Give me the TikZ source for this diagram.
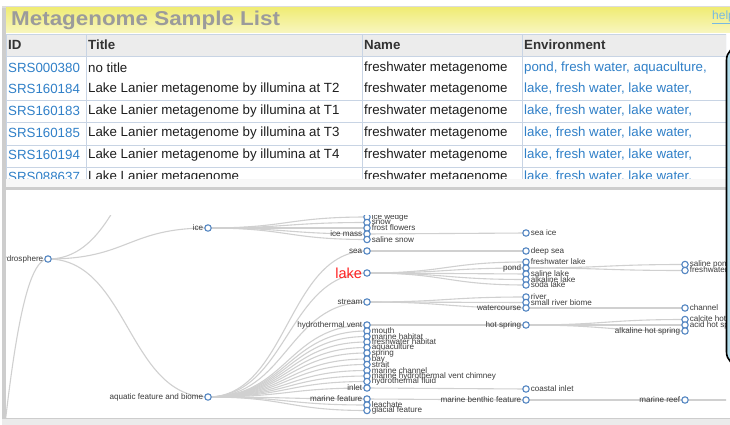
\documentclass[tikz,border=0pt]{standalone}
\usepackage{fontspec}
\setmainfont{Liberation Sans}
\newfontfamily\titlefont[FakeStretch=1.12]{Liberation Sans}
\usetikzlibrary{calc}
\definecolor{linkblue}{RGB}{48,128,200}
\definecolor{nodeblue}{RGB}{84,134,194}
\definecolor{edgegray}{RGB}{208,208,208}
\definecolor{labtext}{RGB}{60,60,60}
\definecolor{gridline}{RGB}{200,212,228}
\definecolor{hdrbg}{RGB}{236,236,236}
\definecolor{ybartop}{RGB}{240,236,118}
\definecolor{ybarbot}{RGB}{248,246,192}
\definecolor{titlegray}{RGB}{155,155,155}
\definecolor{calloutblue}{RGB}{178,220,234}
\definecolor{lakered}{RGB}{255,32,32}
\definecolor{framegray}{RGB}{205,205,205}
\definecolor{helpblue}{RGB}{120,185,225}
\definecolor{celltext}{RGB}{30,30,30}
\pgfdeclarelayer{back}
\pgfdeclarelayer{edges}
\pgfsetlayers{back,edges,main}
\tikzset{
  tn/.style={circle,draw=nodeblue,fill=white,line width=1.1pt,inner sep=0pt,minimum size=6.4pt},
  tl/.style={font=\fontsize{8.1}{9}\selectfont,text=labtext,inner sep=0.8pt},
  dg/.style={draw=edgegray,line width=1.1pt,
    to path={let \p1=(\tikztostart), \p2=(\tikztotarget) in
      (\tikztostart) .. controls ({(\x1+\x2)/2},\y1) and ({(\x1+\x2)/2},\y2) .. (\tikztotarget)}},
  cell/.style={anchor=west,font=\fontsize{13.3}{15}\selectfont,text=celltext,inner sep=0pt},
  lnk/.style={cell,text=linkblue},
  hdr/.style={anchor=west,font=\bfseries\fontsize{13.3}{15}\selectfont,text=black!80,inner sep=0pt},
  grid/.style={draw=gridline,line width=0.9pt}
}
\newcommand{\TR}[4]{\node[tn,label={[tl]right:#4}] (#1) at (#2,#3) {};}
\newcommand{\TL}[4]{\node[tn,label={[tl]left:#4}] (#1) at (#2,#3) {};}
\begin{document}
\begin{tikzpicture}[x=1pt,y=-1pt]
\useasboundingbox (0,0) rectangle (730,425);
\begin{pgfonlayer}{back}
\fill[white] (0,0) rectangle (730,425);
\fill[framegray!70] (2,6) rectangle (730,8);
\fill[framegray] (2,8) rectangle (6,425);
\shade[top color=ybartop,bottom color=ybarbot] (6,8) rectangle (730,33);
\fill[hdrbg] (6,34) rectangle (726,56);
\fill[white] (6,56) rectangle (726,178.5);
\fill[black!3] (6,178.5) rectangle (730,187);
\fill[framegray] (6,187) rectangle (730,190);
\fill[white] (6,190) rectangle (730,418);
\fill[black!8] (2,418) rectangle (730,425);
\fill[framegray] (2,418) rectangle (730,419);
\end{pgfonlayer}

% title bar
\node[anchor=west,inner sep=0pt,text=titlegray,font=\titlefont\bfseries\fontsize{20}{22}\selectfont] (title) at (11,20.5) {Metagenome Sample List};
\node[anchor=west,inner sep=0pt,text=helpblue,font=\fontsize{12}{14}\selectfont] (help) at (712,17) {\underline{help}};

% table
\node[hdr] (hid) at (8,45) {ID};
\node[hdr] (htitle) at (88,45) {Title};
\node[hdr] (hname) at (364,45) {Name};
\node[hdr] (henv) at (524,45) {Environment};
\begin{scope}
\clip (6,34) rectangle (726,178.5);
\draw[grid] (6,34) -- (726,34);
\draw[grid] (6,56) -- (726,56);
\foreach \yy in {100,122,145,167} \draw[grid] (6,\yy) -- (726,\yy);
\foreach \xx in {6,86,362,522,726} \draw[grid] (\xx,34) -- (\xx,181);
\foreach \yy/\sid/\ttl/\env [count=\i] in {
  68/SRS000380/no title/{pond, fresh water, aquaculture,},
  89/SRS160184/Lake Lanier metagenome by illumina at T2/{lake, fresh water, lake water,},
  111/SRS160183/Lake Lanier metagenome by illumina at T1/{lake, fresh water, lake water,},
  133/SRS160185/Lake Lanier metagenome by illumina at T3/{lake, fresh water, lake water,},
  155/SRS160194/Lake Lanier metagenome by illumina at T4/{lake, fresh water, lake water,},
  177/SRS088637/Lake Lanier metagenome/{lake, fresh water, lake water,}}{
  \node[lnk] (id\i) at (8,\yy) {\sid};
  \node[cell] (t\i) at (88,\yy) {\ttl};
  \node[cell] (n\i) at (364,\yy) {freshwater metagenome};
  \node[lnk] (e\i) at (524,\yy) {\env};
}
\end{scope}

% tree
\begin{scope}
\clip (6,215) rectangle (726,418);
\TL{hydro}{48}{259}{hydrosphere}
\coordinate (upoff) at (208,110);
\coordinate (paroff) at (-60,800);
\TL{ice}{208}{228}{ice}
\TL{aqua}{208}{397}{aquatic feature and biome}
\TR{icewedge}{367}{217}{ice wedge}
\TR{snow}{367}{222.5}{snow}
\TR{frost}{367}{228}{frost flowers}
\TL{icemass}{367}{234}{ice mass}
\TR{salsnow}{367}{239.5}{saline snow}
\TL{sea}{367}{251}{sea}
\node[tn,label={[font=\fontsize{14.5}{16}\selectfont,text=lakered,inner sep=1pt]left:lake}] (lake) at (367,273) {};
\TL{stream}{367}{302}{stream}
\TL{hvent}{367}{325}{hydrothermal vent}
\TR{mouth}{367}{331}{mouth}
\TR{mhab}{367}{336.5}{marine habitat}
\TR{fhab}{367}{342}{freshwater habitat}
\TR{aquac}{367}{347.5}{aquaculture}
\TR{spring}{367}{353}{spring}
\TR{bay}{367}{359}{bay}
\TR{strait}{367}{364.5}{strait}
\TR{mchan}{367}{370.5}{marine channel}
\TR{mhvc}{367}{376}{marine hydrothermal vent chimney}
\TR{hfluid}{367}{381.5}{hydrothermal fluid}
\TL{inlet}{367}{388}{inlet}
\TL{mfeat}{367}{399}{marine feature}
\TR{leach}{367}{405}{leachate}
\TR{glac}{367}{410.5}{glacial feature}
\TR{seaice}{526}{233}{sea ice}
\TR{deepsea}{526}{251}{deep sea}
\TR{fwlake}{526}{262}{freshwater lake}
\TL{pond}{526}{268}{pond}
\TR{sallake}{526}{274}{saline lake}
\TR{alklake}{526}{279.5}{alkaline lake}
\TR{sodalake}{526}{285}{soda lake}
\TR{river}{526}{297}{river}
\TR{srb}{526}{302.5}{small river biome}
\TL{wcourse}{526}{308}{watercourse}
\TL{hspring}{526}{325}{hot spring}
\TR{cinlet}{526}{389}{coastal inlet}
\TL{mbf}{526}{400}{marine benthic feature}
\TR{salpond}{685}{264.5}{saline pond}
\TR{fwpond}{685}{270.5}{freshwater pond}
\TR{channel}{685}{308}{channel}
\TR{calcite}{685}{319.5}{calcite hot spring}
\TR{acid}{685}{325}{acid hot spring}
\TL{alkhs}{685}{331}{alkaline hot spring}
\TL{mreef}{685}{400}{marine reef}
\coordinate (reefoff) at (850,400);
\end{scope}
\begin{pgfonlayer}{edges}
\clip (6,215) rectangle (726,418);
\foreach \a/\b in {hydro/ice,hydro/aqua,hydro/upoff,hydro/paroff,
  ice/icewedge,ice/snow,ice/frost,ice/icemass,ice/salsnow,
  aqua/sea,aqua/lake,aqua/stream,aqua/hvent,aqua/mouth,aqua/mhab,aqua/fhab,aqua/aquac,
  aqua/spring,aqua/bay,aqua/strait,aqua/mchan,aqua/mhvc,aqua/hfluid,aqua/inlet,aqua/mfeat,
  aqua/leach,aqua/glac,
  icemass/seaice,sea/deepsea,lake/fwlake,lake/pond,lake/sallake,lake/alklake,lake/sodalake,
  stream/river,stream/srb,stream/wcourse,hvent/hspring,inlet/cinlet,mfeat/mbf,
  pond/salpond,pond/fwpond,wcourse/channel,hspring/calcite,hspring/acid,hspring/alkhs,
  mbf/mreef,mreef/reefoff}
  \draw[dg] (\a.center) to (\b.center);
\end{pgfonlayer}

% callout panel at right edge
\draw[black,line width=1.6pt,fill=calloutblue,rounded corners=14pt] (726.5,46) rectangle (800,366);
\end{tikzpicture}
\end{document}
